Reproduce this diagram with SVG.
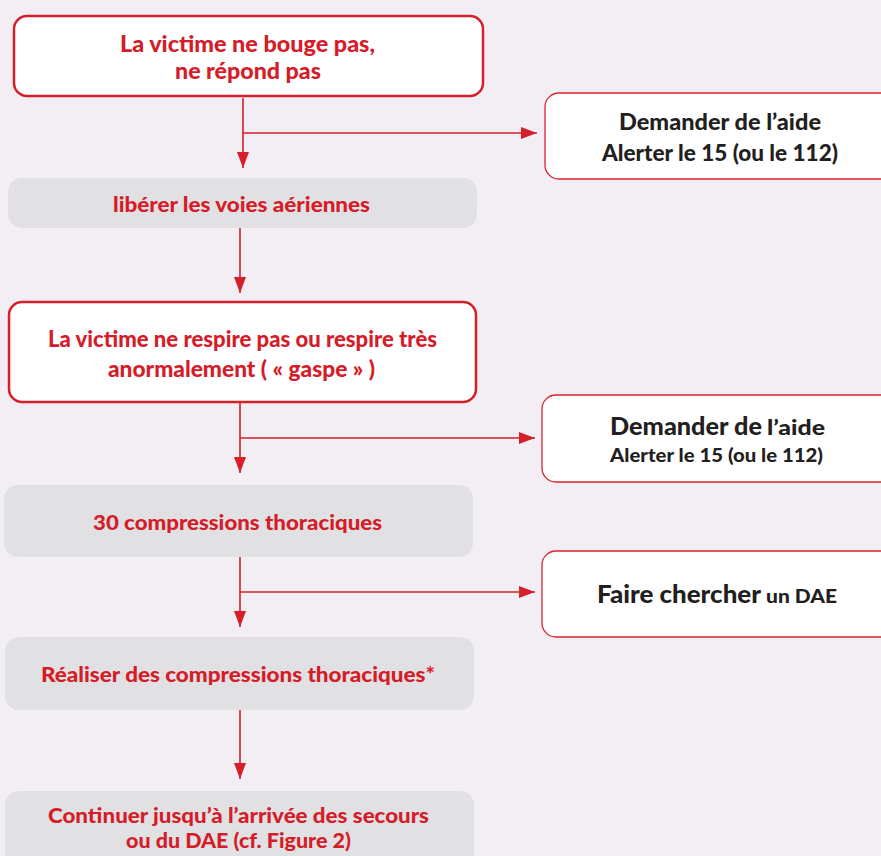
<svg xmlns="http://www.w3.org/2000/svg" width="881" height="856" viewBox="0 0 881 856">
<defs>
<style>
.bg{fill:#f2eef3}
.red{fill:#fff;stroke:#d51f2a;stroke-width:2.5}
.side{fill:#fff;stroke:#d8252f;stroke-width:1.3}
.grey{fill:#e1e1e3}
.rt{font-family:Lato,"Open Sans",sans-serif;font-weight:900;fill:#d51c29;text-anchor:start}
.dt{font-family:Lato,"Open Sans",sans-serif;font-weight:900;fill:#231f20}
.con{fill:none;stroke:#d51f2a;stroke-width:1.6}
</style>
<marker id="ah" markerUnits="userSpaceOnUse" markerWidth="16" markerHeight="12" refX="16" refY="6" orient="auto">
<path d="M0,0 L16,6 L0,12 Z" fill="#d51f2a"/>
</marker>
</defs>
<rect class="bg" x="0" y="0" width="881" height="856"/>
<g id="connectors">
<path class="con" d="M243,98 V168" marker-end="url(#ah)"/>
<path class="con" d="M243,133 H537" marker-end="url(#ah)"/>
<path class="con" d="M240,228 V293" marker-end="url(#ah)"/>
<path class="con" d="M240,403 V473" marker-end="url(#ah)"/>
<path class="con" d="M240,438 H535" marker-end="url(#ah)"/>
<path class="con" d="M240,557 V627" marker-end="url(#ah)"/>
<path class="con" d="M240,592 H535" marker-end="url(#ah)"/>
<path class="con" d="M240,710 V779" marker-end="url(#ah)"/>
</g>
<g id="n1">
<rect class="red" x="14" y="16" width="469" height="80" rx="13"/>
<text class="rt" font-size="22"><tspan x="120" y="52" textLength="255" lengthAdjust="spacingAndGlyphs">La victime ne bouge pas,</tspan><tspan x="175" y="79" textLength="146" lengthAdjust="spacingAndGlyphs">ne répond pas</tspan></text>
</g>
<g id="n2">
<rect class="side" x="545" y="93" width="350" height="86" rx="14"/>
<text class="dt" font-size="22"><tspan x="619" y="130" textLength="202" lengthAdjust="spacingAndGlyphs">Demander de l’aide</tspan><tspan x="602" y="161" textLength="236" lengthAdjust="spacingAndGlyphs">Alerter le 15 (ou le 112)</tspan></text>
</g>
<g id="n3">
<rect class="grey" x="8" y="178" width="469" height="50" rx="14"/>
<text class="rt" font-size="20"><tspan x="113" y="212" textLength="257" lengthAdjust="spacingAndGlyphs">libérer les voies aériennes</tspan></text>
</g>
<g id="n4">
<rect class="red" x="9" y="302" width="467" height="100" rx="13"/>
<text class="rt" font-size="22"><tspan x="48" y="347" textLength="389" lengthAdjust="spacingAndGlyphs">La victime ne respire pas ou respire très</tspan><tspan x="108" y="377" textLength="267" lengthAdjust="spacingAndGlyphs">anormalement ( « gaspe » )</tspan></text>
</g>
<g id="n5">
<rect class="side" x="542" y="395" width="356" height="87" rx="14"/>
<text class="dt"><tspan x="610" y="435" font-size="25" textLength="152" lengthAdjust="spacingAndGlyphs">Demander de</tspan><tspan x="767" y="435" font-size="20" textLength="58" lengthAdjust="spacingAndGlyphs">l’aide</tspan><tspan x="610" y="462" font-size="19" textLength="213" lengthAdjust="spacingAndGlyphs">Alerter le 15 (ou le 112)</tspan></text>
</g>
<g id="n6">
<rect class="grey" x="4" y="485" width="469" height="72" rx="14"/>
<text class="rt" font-size="21"><tspan x="93" y="530" textLength="289" lengthAdjust="spacingAndGlyphs">30 compressions thoraciques</tspan></text>
</g>
<g id="n7">
<rect class="side" x="542" y="551" width="356" height="86" rx="14"/>
<text class="dt"><tspan x="597" y="603" font-size="24" textLength="164" lengthAdjust="spacingAndGlyphs">Faire chercher</tspan><tspan x="766" y="603" font-size="19" textLength="71" lengthAdjust="spacingAndGlyphs">un DAE</tspan></text>
</g>
<g id="n8">
<rect class="grey" x="5" y="637" width="469" height="73" rx="14"/>
<text class="rt" font-size="21"><tspan x="41" y="682" textLength="394" lengthAdjust="spacingAndGlyphs">Réaliser des compressions thoraciques*</tspan></text>
</g>
<g id="n9">
<rect class="grey" x="5" y="791" width="469" height="80" rx="14"/>
<text class="rt" font-size="21"><tspan x="48" y="823" textLength="381" lengthAdjust="spacingAndGlyphs">Continuer jusqu’à l’arrivée des secours</tspan><tspan x="126" y="848" textLength="225" lengthAdjust="spacingAndGlyphs">ou du DAE (cf. Figure 2)</tspan></text>
</g>
</svg>
